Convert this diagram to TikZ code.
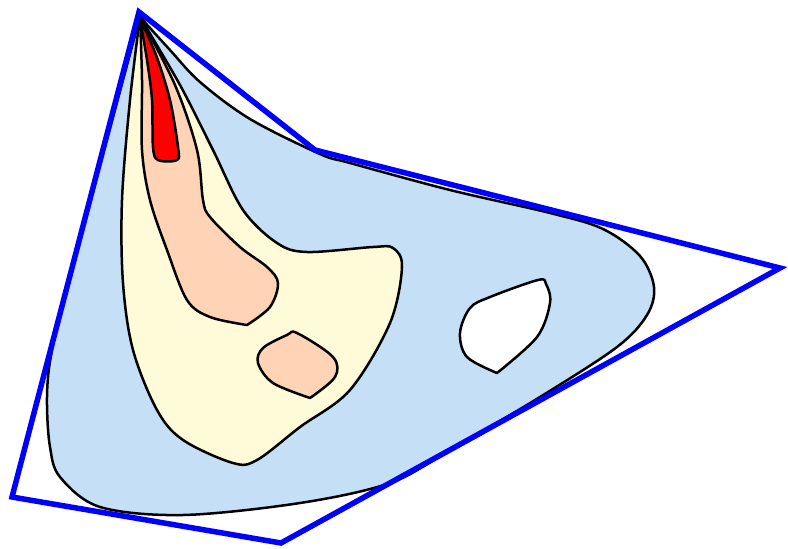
\documentclass[tikz,border=0pt]{standalone}
\begin{document}
\begin{tikzpicture}[x=1pt,y=-1pt,
  region/.style={draw=black,line width=2.5pt,line join=round},
  hull/.style={draw=blue,line width=5.5pt,line join=miter}]
\definecolor{lblue}{HTML}{C5DFF7}
\definecolor{lyellow}{HTML}{FFFAD8}
\definecolor{lpeach}{HTML}{FFD3B5}
\useasboundingbox (0,0) rectangle (788,549);
% outer light blue region
\path[region,fill=lblue] plot[smooth,tension=0.55] coordinates {(140,17) (170,50) (200,82) (250,119) (320,154) (350,163) (450,190) (550,213) (603,229) (640,256) (654,287) (647,315) (617,347) (540,397) (450,450) (390,483) (300,503) (183,515) (100,507) (60,477) (50,447) (47,405) (49,368) (58,320)} -- cycle;
% yellow region
\path[region,fill=lyellow] plot[smooth,tension=0.55] coordinates {(140,17) (130,100) (122,200) (123,283) (133,350) (157,410) (183,440) (233,463) (257,460) (300,427) (350,390) (390,323) (402,267) (393,248) (373,247) (307,252) (277,243) (243,210) (213,150) (180,85) (140,17)} -- cycle;
% peach big region
\path[region,fill=lpeach] plot[smooth,tension=0.55] coordinates {(140,17) (142,80) (142,150) (150,200) (167,250) (187,300) (210,317) (247,325)} -- plot[smooth,tension=0.55] coordinates {(247,325) (270,307) (278,283) (267,267) (240,247) (210,217) (203,200) (197,150) (175,85) (140,17)} -- cycle;
% red region
\path[region,fill=red] plot[smooth,tension=0.55] coordinates {(140,19) (147,60) (152,100) (153,147) (158,160) (177,160) (178,147) (170,100) (156,55) (140,19)} -- cycle;
% small peach region
\path[region,fill=lpeach] plot[smooth,tension=0.55] coordinates {(310,398) (273,383) (258,363) (263,348) (287,335) (297,333) (333,357) (335,377) (310,398)} -- cycle;
% white hole
\path[region,fill=white] plot[smooth,tension=0.55] coordinates {(497,373) (467,357) (460,333) (470,308) (490,297) (538,280) (546,284) (550,303) (537,337) (497,373)} -- cycle;
% convex hull polygon
\coordinate (h1) at (139,12);
\coordinate (h2) at (315,150);
\coordinate (h3) at (780,268);
\coordinate (h4) at (281,543);
\coordinate (h5) at (12,497);
\draw[hull] (h1) -- (h2) -- (h3) -- (h4) -- (h5) -- cycle;
\end{tikzpicture}
\end{document}
